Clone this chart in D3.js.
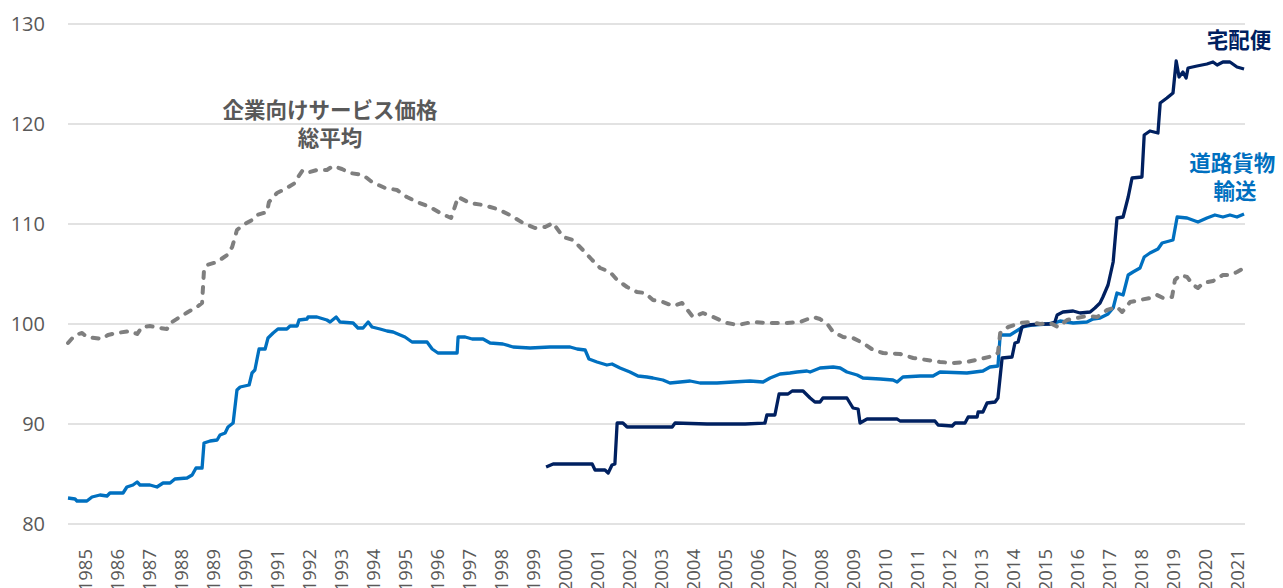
<!DOCTYPE html>
<html>
<head>
<meta charset="utf-8">
<script src="https://cdn.jsdelivr.net/npm/d3@7"></script>
<style>
  body { margin: 0; background: #fff; }
  svg { display: block; }
</style>
</head>
<body>
<div id="chart"></div>
<script>
// tick labels
var years = d3.range(1985, 2022);
var yTicks = [80, 90, 100, 110, 120, 130];

// 企業向けサービス価格 総平均 (decimal year, index)
var sppiAll = [
  [1985.00, 98.1], [1985.22, 98.9], [1985.44, 99.1], [1985.59, 98.7], [1986.06, 98.5], [1986.25, 98.9],
  [1986.53, 99.1], [1986.94, 99.3], [1987.16, 99.0], [1987.31, 99.7], [1987.56, 99.8], [1987.88, 99.6],
  [1988.09, 99.5], [1988.25, 100.2], [1988.50, 100.7], [1988.75, 101.2], [1989.03, 101.7], [1989.19, 102.1],
  [1989.25, 105.4], [1989.34, 105.9], [1989.66, 106.2], [1989.97, 106.9], [1990.13, 107.7], [1990.28, 109.4],
  [1990.47, 109.9], [1990.75, 110.4], [1990.91, 110.9], [1991.22, 111.2], [1991.28, 112.2], [1991.53, 113.1],
  [1991.84, 113.6], [1992.09, 114.1], [1992.19, 114.7], [1992.34, 115.4], [1992.56, 115.2], [1992.78, 115.4],
  [1993.09, 115.4], [1993.28, 115.8], [1993.56, 115.5], [1993.81, 115.1], [1994.22, 114.9], [1994.50, 114.2],
  [1994.91, 113.6], [1995.28, 113.4], [1995.59, 112.7], [1995.91, 112.2], [1996.31, 111.7], [1996.63, 111.1],
  [1996.97, 110.6], [1997.19, 112.7], [1997.56, 112.1], [1997.97, 111.9], [1998.41, 111.5], [1998.81, 110.9],
  [1999.22, 110.1], [1999.59, 109.6], [1999.91, 109.7], [2000.16, 110.1], [2000.47, 108.7], [2000.78, 108.4],
  [2001.09, 107.4], [2001.38, 106.4], [2001.63, 105.6], [2001.94, 105.2], [2002.16, 104.4], [2002.47, 103.7],
  [2002.78, 103.2], [2003.03, 103.1], [2003.28, 102.4], [2003.59, 102.2], [2003.91, 101.8], [2004.19, 102.1],
  [2004.53, 100.7], [2004.84, 101.1], [2005.16, 100.7], [2005.59, 100.1], [2005.94, 99.9], [2006.38, 100.2],
  [2006.84, 100.1], [2007.47, 100.1], [2007.88, 100.2], [2008.28, 100.7], [2008.50, 100.5], [2008.75, 99.9],
  [2008.91, 99.2], [2009.22, 98.7], [2009.53, 98.6], [2009.84, 98.1], [2010.16, 97.4], [2010.47, 97.1],
  [2011.00, 97.0], [2011.41, 96.6], [2011.84, 96.4], [2012.25, 96.2], [2012.66, 96.1], [2013.09, 96.2],
  [2013.50, 96.5], [2013.91, 96.8], [2014.06, 97.1], [2014.13, 99.1], [2014.38, 99.7], [2014.75, 100.1],
  [2015.06, 100.2], [2015.38, 100.0], [2015.69, 100.1], [2015.94, 99.7], [2016.22, 100.4], [2016.53, 100.6],
  [2016.84, 100.8], [2017.16, 100.7], [2017.47, 101.4], [2017.78, 101.7], [2017.94, 101.2], [2018.19, 102.2],
  [2018.50, 102.4], [2018.81, 102.6], [2019.03, 102.9], [2019.22, 102.6], [2019.50, 102.7], [2019.59, 104.4],
  [2019.75, 104.9], [2019.97, 104.7], [2020.16, 103.9], [2020.31, 103.6], [2020.47, 104.1], [2020.78, 104.3],
  [2021.09, 104.9], [2021.31, 104.9], [2021.53, 105.2], [2021.75, 105.6]
];

// 道路貨物輸送
var roadFreight = [
  [1985.00, 82.6], [1985.22, 82.5], [1985.28, 82.3], [1985.59, 82.3], [1985.75, 82.7], [1986.00, 82.9],
  [1986.22, 82.8], [1986.31, 83.1], [1986.72, 83.1], [1986.84, 83.7], [1987.03, 83.9], [1987.16, 84.2],
  [1987.25, 83.9], [1987.56, 83.9], [1987.78, 83.7], [1987.97, 84.1], [1988.19, 84.1], [1988.34, 84.5],
  [1988.72, 84.6], [1988.88, 84.9], [1989.00, 85.6], [1989.19, 85.6], [1989.25, 88.1], [1989.44, 88.3],
  [1989.66, 88.4], [1989.75, 88.9], [1989.91, 89.1], [1990.00, 89.7], [1990.16, 90.1], [1990.28, 93.4],
  [1990.38, 93.7], [1990.66, 93.9], [1990.75, 95.1], [1990.84, 95.4], [1990.97, 97.5], [1991.16, 97.5],
  [1991.25, 98.6], [1991.41, 99.1], [1991.56, 99.5], [1991.84, 99.5], [1991.94, 99.8], [1992.16, 99.8],
  [1992.22, 100.4], [1992.47, 100.5], [1992.50, 100.7], [1992.78, 100.7], [1993.09, 100.4], [1993.19, 100.2],
  [1993.38, 100.7], [1993.50, 100.2], [1993.91, 100.1], [1994.06, 99.6], [1994.22, 99.6], [1994.38, 100.2],
  [1994.50, 99.7], [1994.75, 99.5], [1994.97, 99.3], [1995.16, 99.2], [1995.38, 98.9], [1995.53, 98.7],
  [1995.75, 98.2], [1996.22, 98.2], [1996.38, 97.5], [1996.56, 97.1], [1997.16, 97.1], [1997.19, 98.7],
  [1997.41, 98.7], [1997.63, 98.5], [1997.97, 98.5], [1998.19, 98.1], [1998.59, 98.0], [1998.91, 97.7],
  [1999.44, 97.6], [2000.06, 97.7], [2000.69, 97.7], [2000.91, 97.5], [2001.16, 97.4], [2001.28, 96.5],
  [2001.53, 96.2], [2001.84, 95.9], [2002.00, 96.0], [2002.25, 95.6], [2002.56, 95.2], [2002.81, 94.8],
  [2003.09, 94.7], [2003.28, 94.6], [2003.59, 94.4], [2003.81, 94.1], [2004.13, 94.2], [2004.44, 94.3],
  [2004.75, 94.1], [2005.28, 94.1], [2005.78, 94.2], [2006.31, 94.3], [2006.72, 94.2], [2006.94, 94.6],
  [2007.25, 95.0], [2007.56, 95.1], [2007.78, 95.2], [2008.09, 95.3], [2008.19, 95.2], [2008.50, 95.6],
  [2008.91, 95.7], [2009.13, 95.6], [2009.34, 95.2], [2009.66, 94.9], [2009.84, 94.6], [2010.38, 94.5],
  [2010.78, 94.4], [2010.91, 94.2], [2011.09, 94.7], [2011.63, 94.8], [2012.03, 94.8], [2012.25, 95.2],
  [2013.09, 95.1], [2013.59, 95.3], [2013.81, 95.7], [2014.06, 95.8], [2014.13, 98.9], [2014.44, 98.9],
  [2014.69, 99.4], [2014.84, 99.7], [2015.16, 99.9], [2015.59, 100.0], [2015.84, 100.1], [2016.00, 100.3],
  [2016.41, 100.1], [2016.84, 100.2], [2017.03, 100.5], [2017.25, 100.6], [2017.50, 101.0], [2017.66, 101.6],
  [2017.78, 103.1], [2017.97, 102.9], [2018.13, 104.9], [2018.28, 105.2], [2018.50, 105.6], [2018.63, 106.7],
  [2018.81, 107.1], [2019.06, 107.5], [2019.19, 108.1], [2019.53, 108.4], [2019.66, 110.7], [2019.97, 110.6],
  [2020.31, 110.2], [2020.59, 110.6], [2020.84, 110.9], [2021.09, 110.7], [2021.31, 110.9], [2021.53, 110.7],
  [2021.75, 111.0]
];

// 宅配便
var parcel = [
  [1999.94, 85.7], [2000.16, 86.0], [2001.38, 86.0], [2001.47, 85.4], [2001.78, 85.4], [2001.88, 85.1],
  [2002.00, 85.9], [2002.09, 86.0], [2002.16, 90.1], [2002.34, 90.1], [2002.47, 89.7], [2003.88, 89.7],
  [2003.97, 90.1], [2004.97, 90.0], [2006.16, 90.0], [2006.78, 90.1], [2006.84, 90.9], [2007.09, 90.9],
  [2007.22, 93.0], [2007.50, 93.0], [2007.63, 93.3], [2007.97, 93.3], [2008.19, 92.6], [2008.34, 92.2],
  [2008.50, 92.2], [2008.59, 92.6], [2009.34, 92.6], [2009.53, 91.6], [2009.69, 91.5], [2009.75, 90.1],
  [2009.97, 90.5], [2010.91, 90.5], [2011.00, 90.3], [2012.09, 90.3], [2012.19, 89.9], [2012.63, 89.8],
  [2012.72, 90.1], [2013.03, 90.1], [2013.13, 90.7], [2013.41, 90.7], [2013.44, 91.2], [2013.59, 91.2],
  [2013.72, 92.1], [2013.97, 92.2], [2014.06, 92.6], [2014.19, 96.6], [2014.50, 96.7], [2014.59, 98.1],
  [2014.69, 98.2], [2014.81, 99.7], [2015.00, 99.9], [2015.38, 100.0], [2015.69, 100.0], [2015.84, 100.2],
  [2015.91, 100.9], [2016.09, 101.2], [2016.41, 101.3], [2016.63, 101.1], [2016.94, 101.2], [2017.09, 101.6],
  [2017.25, 102.1], [2017.34, 102.7], [2017.50, 103.9], [2017.66, 106.2], [2017.78, 110.6], [2017.97, 110.7],
  [2018.13, 112.7], [2018.25, 114.6], [2018.56, 114.7], [2018.63, 118.9], [2018.81, 119.3], [2019.06, 119.1],
  [2019.13, 122.1], [2019.34, 122.6], [2019.53, 123.1], [2019.63, 126.3], [2019.72, 124.7], [2019.84, 125.2],
  [2019.94, 124.6], [2020.00, 125.6], [2020.28, 125.8], [2020.59, 126.0], [2020.78, 126.2], [2020.91, 125.9],
  [2021.09, 126.2], [2021.31, 126.2], [2021.53, 125.7], [2021.75, 125.5]
];

var margin = {top: 24, right: 38, bottom: 64, left: 68},
    width = 1283 - margin.left - margin.right,
    height = 588 - margin.top - margin.bottom;

var svg = d3.select("#chart")
  .append("svg")
    .attr("width", 1283)
    .attr("height", 588)
  .append("g")
    .attr("transform", "translate(" + margin.left + "," + margin.top + ")");

var x = d3.scaleLinear().domain([1985, 2021.78]).range([0, width]);
var y = d3.scaleLinear().domain([80, 130]).range([height, 0]);

// gridlines
svg.append("g")
  .selectAll("line")
  .data(yTicks)
  .enter()
  .append("line")
    .attr("x1", 0)
    .attr("x2", width)
    .attr("y1", d => y(d))
    .attr("y2", d => y(d))
    .attr("stroke", "#d9d9d9")
    .attr("stroke-width", 1.3);

// y labels
svg.append("g")
  .selectAll("text")
  .data(yTicks)
  .enter()
  .append("text")
    .attr("x", -23)
    .attr("y", d => y(d))
    .attr("dy", "0.35em")
    .attr("text-anchor", "end")
    .attr("fill", "#595959")
    .style("font-family", "'Open Sans', 'Noto Sans', sans-serif")
    .style("font-size", "20px")
    .text(d => d);

// x labels (centred on each year)
svg.append("g")
  .selectAll("text")
  .data(years)
  .enter()
  .append("text")
    .attr("transform", d => "translate(" + x(d + 0.5) + "," + (height + 25) + ") rotate(-90)")
    .attr("text-anchor", "end")
    .attr("dominant-baseline", "central")
    .attr("fill", "#595959")
    .style("font-family", "'Open Sans', 'Noto Sans', sans-serif")
    .style("font-size", "18.5px")
    .text(d => d);

var line = d3.line()
  .x(d => x(d[0]))
  .y(d => y(d[1]));

svg.append("path")
  .datum(roadFreight)
  .attr("d", line)
  .attr("fill", "none")
  .attr("stroke", "#0070c0")
  .attr("stroke-width", 3.3)
  .attr("stroke-linejoin", "round");

svg.append("path")
  .datum(parcel)
  .attr("d", line)
  .attr("fill", "none")
  .attr("stroke", "#002060")
  .attr("stroke-width", 3.3)
  .attr("stroke-linejoin", "round");

svg.append("path")
  .datum(sppiAll)
  .attr("d", line)
  .attr("fill", "none")
  .attr("stroke", "#7f7f7f")
  .attr("stroke-width", 4)
  .attr("stroke-dasharray", "6,9")
  .attr("stroke-linecap", "round")
  .attr("stroke-linejoin", "round");

// series labels
var labels = [
  {text: "企業向けサービス価格", yr: 1993.19, v: 120.6, color: "#595959"},
  {text: "総平均", yr: 1993.19, v: 117.8, color: "#595959"},
  {text: "宅配便", yr: 2021.59, v: 127.6, color: "#002060"},
  {text: "道路貨物", yr: 2021.38, v: 115.3, color: "#0070c0"},
  {text: "輸送", yr: 2021.47, v: 112.5, color: "#0070c0"}
];

svg.append("g")
  .selectAll("text")
  .data(labels)
  .enter()
  .append("text")
    .attr("x", d => x(d.yr))
    .attr("y", d => y(d.v))
    .attr("text-anchor", "middle")
    .attr("fill", d => d.color)
    .style("font-family", "'Noto Sans CJK JP', sans-serif")
    .style("font-weight", "bold")
    .style("font-size", "21.5px")
    .text(d => d.text);
</script>
</body>
</html>
